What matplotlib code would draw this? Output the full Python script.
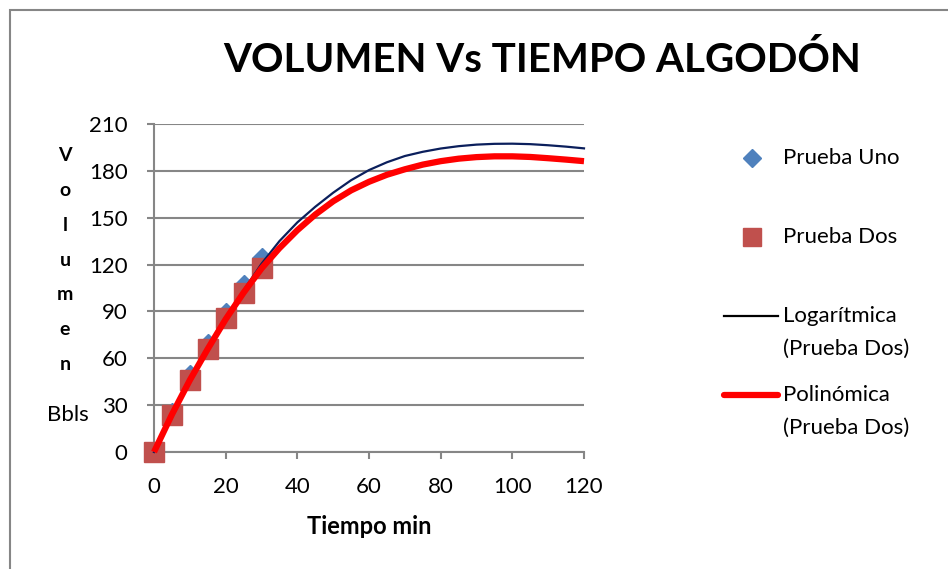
import matplotlib
matplotlib.use("Agg")
import matplotlib.pyplot as plt
from matplotlib.lines import Line2D
from matplotlib.patches import Rectangle

plt.rcParams['font.family'] = ['Lato', 'DejaVu Sans']

# datos medidos (tiempo en min, volumen en Bbls)
tiempo = [0, 5, 10, 15, 20, 25, 30]
prueba_uno = [0, 25, 49, 69, 89, 107, 124]
prueba_dos = [0, 24, 46, 66, 86, 102, 118]

# lineas de tendencia de Prueba Dos, cada 5 min hasta 120
t_tend = [0, 5, 10, 15, 20, 25, 30, 35, 40, 45, 50, 55, 60,
          65, 70, 75, 80, 85, 90, 95, 100, 105, 110, 115, 120]
logaritmica = [0, 24, 46, 66, 85.5, 103.5, 120.5, 135, 147, 157, 166, 174, 180.5,
               185.5, 189.5, 192.2, 194.3, 195.8, 196.8, 197.3, 197.4, 197.1, 196.4,
               195.5, 194.4]
polinomica = [0, 24, 46, 66, 85, 102, 117.5, 130.5, 142, 152, 160.5, 167.5, 173,
              177.5, 181, 184, 186.2, 187.8, 188.8, 189.3, 189.3, 188.9, 188.1,
              187.2, 186.2]

x_ticks = [0, 20, 40, 60, 80, 100, 120]
y_ticks = [0, 30, 60, 90, 120, 150, 180, 210]

gris = '#868686'
azul = '#4F81BD'
rojo_marca = '#C0504D'
azul_osc = '#0B1F5C'
rojo = '#FF0000'

W, H = 948, 569
fig = plt.figure(figsize=(W / 100, H / 100), dpi=100)
ax = fig.add_axes([154 / W, 1 - 452 / H, (584 - 154) / W, (452 - 124) / H])


def fx(px):
    return px / W


def fy(py):
    return 1 - py / H


# marco exterior del grafico
fig.patches.append(Rectangle((fx(10), fy(900)), 2, fy(10) - fy(900),
                             transform=fig.transFigure, fill=False,
                             edgecolor=gris, linewidth=1.5))

ax.plot(tiempo, prueba_uno, linestyle='none', marker='D', markersize=9.8,
        color=azul, clip_on=False, zorder=3)
ax.plot(tiempo, prueba_dos, linestyle='none', marker='s', markersize=14,
        color=rojo_marca, clip_on=False, zorder=4)
ax.plot(t_tend, logaritmica, color=azul_osc, linewidth=1.6, zorder=5,
        clip_on=False)
ax.plot(t_tend, polinomica, color=rojo, linewidth=4.5, zorder=6,
        solid_capstyle='butt', clip_on=False)

ax.set_xlim(0, 120)
ax.set_ylim(0, 210)
ax.set_xticks(x_ticks)
ax.set_yticks(y_ticks)
ax.tick_params(axis='both', labelsize=16, colors=gris, labelcolor='black',
               length=5, width=1.5, direction='out')
ax.tick_params(axis='x', pad=13)
ax.tick_params(axis='y', pad=14)
for lado in ['top', 'right']:
    ax.spines[lado].set_visible(False)
for lado in ['left', 'bottom']:
    ax.spines[lado].set_color(gris)
    ax.spines[lado].set_linewidth(1.5)
ax.yaxis.grid(True, color=gris, linewidth=1.5)
ax.set_axisbelow(True)

fig.text(fx(542), fy(60), 'VOLUMEN Vs TIEMPO ALGODÓN', fontsize=29,
         fontweight='bold', ha='center', va='center')
fig.text(fx(369), fy(527), 'Tiempo min', fontsize=17, fontweight='bold',
         ha='center', va='center')
fig.text(fx(65), fy(260), 'V\no\nl\nu\nm\ne\nn', fontsize=14,
         fontweight='bold', ha='center', va='center', linespacing=2.28)
fig.text(fx(68), fy(415), 'Bbls', fontsize=16, ha='center', va='center')

# leyenda
fig.add_artist(Line2D([fx(752)], [fy(158)], marker='D', markersize=9.2,
                      color=azul, linestyle='none', transform=fig.transFigure))
fig.add_artist(Line2D([fx(752)], [fy(237)], marker='s', markersize=13,
                      color=rojo_marca, linestyle='none', transform=fig.transFigure))
fig.add_artist(Line2D([fx(724), fx(778)], [fy(316), fy(316)], color='black',
                      linewidth=1.6, transform=fig.transFigure))
fig.add_artist(Line2D([fx(724), fx(778)], [fy(395), fy(395)], color=rojo,
                      linewidth=4.5, solid_capstyle='round',
                      transform=fig.transFigure))
etiquetas = [('Prueba Uno', 158), ('Prueba Dos', 237),
             ('Logarítmica', 316), ('(Prueba Dos)', 349),
             ('Polinómica', 395), ('(Prueba Dos)', 428)]
for texto, py in etiquetas:
    fig.text(fx(783), fy(py), texto, fontsize=16, ha='left', va='center')

fig.savefig('out.png', dpi=100)
